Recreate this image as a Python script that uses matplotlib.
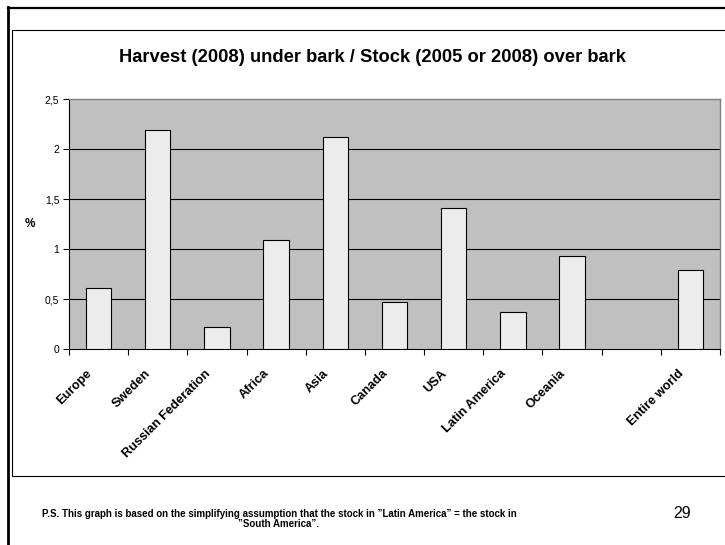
import numpy as np
import matplotlib
matplotlib.use('Agg')
import matplotlib.pyplot as plt
from matplotlib.lines import Line2D
from matplotlib.patches import Rectangle
from matplotlib.transforms import ScaledTranslation

plt.rcParams['font.family'] = ['Liberation Sans', 'DejaVu Sans']

# data (the empty slot is a gap in the original)
categories = ['Europe', 'Sweden', 'Russian Federation', 'Africa', 'Asia',
              'Canada', 'USA', 'Latin America', 'Oceania', '', 'Entire world']
values = [0.61, 2.19, 0.22, 1.09, 2.12, 0.47, 1.41, 0.37, 0.93, np.nan, 0.79]
y_ticks = [0, 0.5, 1, 1.5, 2, 2.5]
y_tick_labels = ['0', '0,5', '1', '1,5', '2', '2,5']

title = 'Harvest (2008) under bark / Stock (2005 or 2008) over bark'
note = ('P.S. This graph is based on the simplifying assumption that the stock in '
        '\u201dLatin America\u201d = the stock in\n\u201dSouth America\u201d.')
page_no = '29'

W, H = 725, 545
fig = plt.figure(figsize=(W / 100, H / 100), dpi=100)
fig.patch.set_facecolor('white')

# slide frame (pixel coords)
bg = fig.add_axes([0, 0, 1, 1])
bg.set_xlim(0, W)
bg.set_ylim(H, 0)
bg.axis('off')
bg.add_line(Line2D([8, W + 5], [7.5, 7.5], color='black', lw=1.6))
bg.add_line(Line2D([8.5, 8.5], [7, H + 5], color='black', lw=2.0))
bg.add_patch(Rectangle((12, 29.5), W, 475.5 - 29.5, fill=False, edgecolor='black', lw=0.8))

# plot area
x0, x1, ytop, ybot = 69, 720, 99.3, 349.3
ax = fig.add_axes([x0 / W, 1 - ybot / H, (x1 - x0) / W, (ybot - ytop) / H])
ax.set_facecolor('#C0C0C0')

x = np.arange(len(categories))
ax.bar(x, values, width=0.43, color='#ECECEC', edgecolor='black', lw=0.8, zorder=3)

ax.set_xlim(-0.5, len(categories) - 0.5)
ax.set_ylim(0, 2.5)

for yv in y_ticks[1:-1]:
    ax.axhline(yv, color='black', lw=0.8, zorder=1)

ax.set_yticks(y_ticks)
ax.set_yticklabels(y_tick_labels, fontsize=7.5)
ax.tick_params(axis='y', direction='out', length=4, width=0.8, pad=3)

# tick marks between categories, labels at centers
ax.set_xticks(np.arange(-0.5, len(categories), 1))
ax.set_xticklabels([])
ax.tick_params(axis='x', which='major', direction='out', length=4, width=0.8)
ax.set_xticks(x, minor=True)
ax.set_xticklabels(categories, minor=True, rotation=45, ha='right',
                   rotation_mode='anchor', fontsize=9.2, fontweight='bold')
ax.tick_params(axis='x', which='minor', length=0, pad=13)
shift = ScaledTranslation(-0.13, 0, fig.dpi_scale_trans)
for lab in ax.get_xticklabels(minor=True):
    lab.set_transform(lab.get_transform() + shift)

for s in ['left', 'bottom']:
    ax.spines[s].set_color('black')
    ax.spines[s].set_linewidth(0.8)
for s in ['top', 'right']:
    ax.spines[s].set_color('#808080')
    ax.spines[s].set_linewidth(1.0)

fig.text(30 / W, 1 - 224 / H, '%', fontsize=8.5, fontweight='bold', ha='center', va='center')
fig.text(372 / W, 1 - 57 / H, title, fontsize=13.2, fontweight='bold', ha='center', va='center')
fig.text(279 / W, 1 - 519 / H, note, fontsize=7, fontweight='bold', ha='center', va='center',
         linespacing=1.05, multialignment='center')
fig.text(682 / W, 1 - 514 / H, page_no, fontsize=11.5, ha='center', va='center')

plt.savefig('out.png', dpi=100)
